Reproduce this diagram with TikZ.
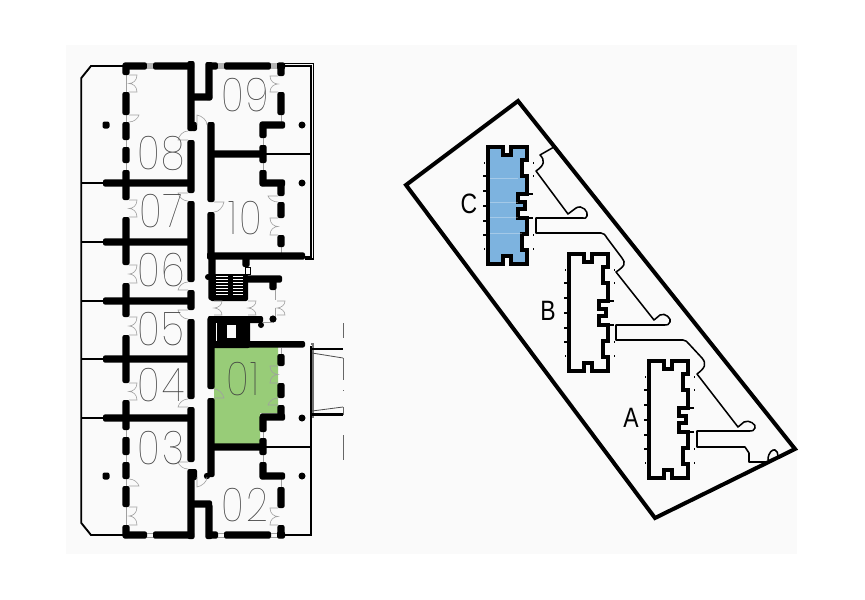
\documentclass[tikz,border=0pt]{standalone}
\usepackage{fontspec}
\setsansfont{Liberation Sans}
\newfontfamily\thinfont[LetterSpace=5]{Poppins Thin}
\definecolor{pagebg}{HTML}{FAFAFA}
\definecolor{unitgreen}{HTML}{98CC78}
\definecolor{unitblue}{HTML}{7DB3DF}
\definecolor{doorgray}{HTML}{A0A0A0}
\definecolor{wingray}{HTML}{B4B4B4}
\tikzset{
  roomno/.style={font=\thinfont\fontsize{35}{35}\selectfont,text=black!75,xscale=0.82,transform shape,inner sep=0pt},
  bldno/.style={font=\sffamily\fontsize{21}{21}\selectfont,text=black,xscale=0.82,transform shape,inner sep=0pt},
  thinwall/.style={draw=black,line width=1.4pt},
  link/.style={draw=doorgray,line width=0.6pt},
  door/.style={draw=doorgray,line width=0.45pt},
  siteline/.style={draw=black,line width=3pt,line join=miter},
  bldline/.style={draw=black,line width=2.6pt,line join=miter},
  walkway/.style={draw=black,line width=1.15pt,line join=round},
}
\newcommand{\wallV}[3]{\fill[black,rounded corners=1.5pt] ({#1-3.6},#2) rectangle ({#1+3.6},#3);}
\newcommand{\wallH}[3]{\fill[black,rounded corners=1.5pt] (#2,{#1-3.6}) rectangle (#3,{#1+3.6});}
\newcommand{\dbl}[4]{\draw[door] (#1,#2) -- ({#1+#4*8},#2) .. controls ({#1+#4*8},{(#2+#3)/2-3}) and ({#1+#4*4},{(#2+#3)/2}) .. (#1,{(#2+#3)/2}) .. controls ({#1+#4*4},{(#2+#3)/2}) and ({#1+#4*8},{(#2+#3)/2+3}) .. ({#1+#4*8},#3) -- (#1,#3);}
\newcommand{\sngV}[4]{\draw[door] (#1,#2) -- ({#1+#4*10},#2) .. controls ({#1+#4*9},{(#2+#3)/2}) and ({#1+#4*5},#3) .. (#1,#3);}
\newcommand{\sngH}[4]{\draw[door] (#2,#1) -- (#2,{#1+#4*10}) .. controls ({(#2+#3)/2},{#1+#4*9}) and (#3,{#1+#4*5}) .. (#3,#1);}
\newcommand{\bldg}[3]{%
\begin{scope}[shift={(#1,#2)}]
  \filldraw[bldline,fill=#3] (0,0) -- (15,0) -- (15,8) -- (23,8) -- (23,0) -- (39,0) -- (39,13) -- (34,13) -- (34,29) -- (39,29) -- (39,47) -- (30,47) -- (30,55) -- (37,55) -- (37,62) -- (30,62) -- (30,71) -- (39,71) -- (39,87) -- (34,87) -- (34,103) -- (39,103) -- (39,117) -- (23,117) -- (23,109) -- (15,109) -- (15,117) -- (0,117) -- cycle;
  \foreach \ty in {29,44,59,74,88} \draw[black,line width=1.2pt] (-5,\ty) -- (0,\ty);
  \foreach \ty in {16,102} \fill[black] (-4.5,\ty-0.7) rectangle (-3,\ty+0.7);
  \foreach \ty in {16,29,88,102} \fill[black] (44.5,\ty-0.7) rectangle (46,\ty+0.7);
  \draw[black,line width=1.1pt] (39,47) -- (45,47) (39,71) -- (45,71);
\end{scope}}
\begin{document}
\begin{tikzpicture}[x=0.75pt,y=-0.75pt]
\useasboundingbox (0,0) rectangle (865,600);
\fill[pagebg] (66,45) rectangle (797,554);
% green unit
\fill[unitgreen] (214,346) -- (278,346) -- (278,413) -- (260,413) -- (260,444) -- (214,444) -- cycle;
% outer thin walls, left wing
\draw[thinwall] (123,66) -- (91,66) -- (81.3,78) -- (81.3,523) -- (91,535) -- (123,535);
\draw[thinwall] (81,183) -- (105,183) (81,242) -- (105,242) (81,301) -- (105,301) (81,359) -- (105,359) (81,418) -- (105,418);
% thin links in left partition
\draw[link] (126,66) -- (126,92) (126,115) -- (126,122) (126,140) -- (126,147) (126,163) -- (126,170);
\draw[link] (126,430) -- (126,437) (126,455) -- (126,462) (126,479) -- (126,486) (126,507) -- (126,525);
% left partition
\wallV{126}{63}{75}\wallV{126}{92}{115}\wallV{126}{122}{140}\wallV{126}{147}{163}\wallV{126}{170}{200}
\wallV{126}{217}{265}\wallV{126}{283}{317}\wallV{126}{335}{383}\wallV{126}{400}{430}
\wallV{126}{437}{455}\wallV{126}{462}{479}\wallV{126}{486}{507}\wallV{126}{525}{538}
% cross walls, left wing
\wallH{183}{103}{191}\wallH{242}{103}{191}\wallH{301}{103}{191}\wallH{359}{103}{191}\wallH{418}{103}{191}
% corridor left wall
\wallV{191}{61}{131}\wallV{191}{140}{193}\wallV{191}{201}{282}\wallV{191}{290}{310}\wallV{191}{319}{399}\wallV{191}{407}{462}\wallV{191}{469}{539}
\fill[black,rounded corners=1.5pt] (191,122) rectangle (197,131);
\fill[black,rounded corners=1.5pt] (191,469) rectangle (197,480);
% top and bottom walls
\wallH{66}{123}{147}\fill[wingray] (147,63) rectangle (153,69);\wallH{66}{153}{194}
\wallH{535}{123}{147}\draw[doorgray,line width=0.5pt] (147,533) -- (153,533) (147,537) -- (153,537);\wallH{535}{153}{194}
% corridor return walls
\wallV{209}{62}{100}\wallH{97}{191}{212}
\wallV{209}{504}{539}\wallH{504}{191}{212}
% corridor right wall
\wallV{211}{122}{202}\wallV{211}{212}{258}\wallV{211}{317}{389}\wallV{211}{398}{477}
\fill[black] (207,476) circle (3.2);
% right wing top wall
\wallH{66}{207}{218}\fill[wingray] (218,63) rectangle (224,69);\wallH{66}{224}{271}\fill[wingray] (271,63) rectangle (277,69);\wallH{66}{277}{285}
% right wing bottom wall
\wallH{535}{207}{218}\draw[doorgray,line width=0.5pt] (218,533) -- (224,533) (218,537) -- (224,537);\wallH{535}{224}{271}\draw[doorgray,line width=0.5pt] (271,533) -- (277,533) (271,537) -- (277,537);\wallH{535}{277}{285}
% right wing links
\draw[link] (281,115) -- (281,125) (263,138) -- (263,145) (263,163) -- (263,170) (281,247) -- (281,256);
\draw[link] (281,348) -- (281,354) (281,405) -- (281,417) (263,432) -- (263,438) (263,455) -- (263,462) (281,476) -- (281,487);
% right wing inner walls
\wallV{281}{63}{76}\wallV{281}{92}{115}\wallH{125}{260}{285}\wallV{263}{122}{138}\wallV{263}{145}{163}\wallV{263}{170}{186}\wallH{183}{260}{285}
\wallV{281}{180}{196}\wallV{281}{202}{218}\wallV{281}{235}{247}
\wallH{154}{211}{263}\draw[thinwall] (263,154) -- (312,154);
\wallH{256}{207}{305}
\wallV{281}{354}{366}\wallV{281}{383}{398}\wallV{281}{405}{417}\wallH{417}{260}{285}\wallV{263}{415}{432}\wallV{263}{438}{455}\wallV{263}{462}{479}\wallH{476}{260}{285}
\wallV{281}{487}{508}\wallV{281}{525}{538}
\wallH{447}{211}{263}\draw[thinwall] (263,447) -- (311,447);
\draw[thinwall] (285,535) -- (311,535) -- (311,346);
% outer double wall, right wing
\draw[black,line width=0.8pt] (277,63.5) -- (313.5,63.5) -- (313.5,259) -- (305,259);
\draw[black,line width=0.8pt] (285,66) -- (311,66) -- (311,257) -- (305,257);
\draw[black!55,line width=1.3pt] (311,344) -- (313,344) -- (313,418);
% stair core
\wallV{212}{256}{300}\wallV{246}{256}{267}
\draw[black,line width=0.6pt] (245,267) rectangle (250,274);
\fill[black,rounded corners=1.5pt] (210,274) rectangle (248,301);
\fill[black] (208,277) circle (3);
\wallH{279}{246}{282}\wallV{273}{279}{290}
\draw[link] (275,290) -- (275,300);
\foreach \sy in {276,279,282,285,288,291,294}{
  \draw[white,line width=0.55pt] (216,\sy) -- (228,\sy) (233,\sy) -- (243,\sy);
}
% block below stair
\fill[black,rounded corners=1.5pt] (208,316) rectangle (250,348);
\fill[black,rounded corners=1.5pt] (208,316) rectangle (263,323);
\fill[black] (261,325) circle (3);
\fill[black] (273,319) circle (3.6);
\draw[link] (263,322) -- (273,322);
\draw[link] (275,316) -- (275,308);
\fill[white] (215.5,323) rectangle (217.2,342);
\fill[pagebg] (227,325) rectangle (236,338);
\fill[black,rounded corners=1.5pt] (208,341) rectangle (305,347.5);
% stair doors
\dbl{214}{301}{315}{1}\dbl{248}{301}{315}{1}\dbl{277}{301}{315}{1}
% black columns in terraces
\fill[black,rounded corners=1.5pt] (102.5,121.5) rectangle (109.5,128.5);
\fill[black,rounded corners=1.5pt] (102.5,472.5) rectangle (109.5,479.5);
\fill[black] (302,125) circle (3.5);\fill[black] (302,183) circle (3.5);
\fill[black] (302,418) circle (3.5);\fill[black] (302,476) circle (3.5);
% left partition doors
\dbl{129}{75}{92}{1}\dbl{129}{200}{217}{1}\dbl{129}{265}{283}{1}\dbl{129}{317}{335}{1}\dbl{129}{383}{400}{1}\dbl{129}{507}{525}{1}
\sngV{129}{115}{122}{1}\sngV{129}{486}{479}{1}
% corridor left wall doors
\sngV{188}{140}{131}{-1}\sngV{188}{193}{201}{-1}\sngV{188}{290}{282}{-1}\sngV{188}{310}{319}{-1}\sngV{188}{407}{399}{-1}\sngV{188}{462}{469}{-1}
% corridor right wall doors
\sngV{214}{202}{212}{1}\sngV{214}{398}{389}{1}
\sngH{125}{197}{207}{-1}\sngH{477}{197}{207}{1}
% right wall doors
\dbl{278}{76}{92}{-1}\dbl{278}{218}{235}{-1}\dbl{278}{366}{383}{-1}\dbl{278}{508}{525}{-1}
\sngV{278}{196}{202}{-1}\sngV{278}{405}{398}{-1}
% entrance
\draw[black,line width=1.8pt] (312,349) -- (343,349) (312,414.5) -- (343,414.5);
\draw[black!70,line width=0.6pt] (312,353) -- (343,358) (312,411) -- (343,407);
\draw[black!60,line width=0.6pt] (343,323) -- (343,338) (343,358) -- (343,380) (343,390) -- (343,391) (343,407) -- (343,415) (343,435) -- (343,460);
% room numbers
\node[roomno] (r08) at (161,153) {08};
\node[roomno] (r07) at (161,211) {07};
\node[roomno] (r06) at (161,270) {06};
\node[roomno] (r05) at (161,329) {05};
\node[roomno] (r04) at (161,385) {04};
\node[roomno] (r03) at (161,448) {03};
\node[roomno] (r09) at (245,95) {09};
\node[roomno] (r10) at (245,218) {10};
\node[roomno] (r01) at (243,379) {01};
\node[roomno] (r02) at (245,505) {02};
% site
\draw[siteline] (518,101) -- (795,449) -- (655,518) -- (406,185) -- cycle;
% walkway
\draw[walkway] (554,147) -- (540,155) .. controls (545,160) and (545,165) .. (536,171) -- (568,214) -- (576,208) .. controls (582,204) and (589,212) .. (587,216) .. controls (586,219) and (585,218) .. (583,218) -- (536,218) -- (536,233) -- (601,233) .. controls (604,233) and (605,235) .. (607,238) -- (622,258) .. controls (626,263) and (625,266) .. (616,272) -- (654,320) -- (660,315) .. controls (665,312) and (672,319) .. (670,322) .. controls (669,325) and (667,325) .. (665,325) -- (616,325) -- (616,340) -- (683,340) .. controls (686,340) and (687,342) .. (689,344) -- (702,358) .. controls (707,364) and (705,368) .. (697,374) -- (738,427) -- (744,422) .. controls (749,419) and (757,425) .. (755,428) .. controls (754,431) and (752,431) .. (750,431) -- (697,431) -- (697,447) -- (745,447) -- (749,453) -- (749,462) -- (767,462);
\draw[walkway] (768,460) .. controls (768,452) and (773,449) .. (775,450) .. controls (777,451) and (778,453) .. (778,456);
% buildings
\bldg{488}{147}{unitblue}
\draw[white,opacity=0.3,line width=0.5pt] (490,178) -- (518,178) (490,202) -- (518,202) (490,217) -- (518,217) (490,233) -- (522,233);
\bldg{569}{254}{pagebg}
\bldg{649}{361}{pagebg}
\node[bldno] (lc) at (469,204) {C};
\node[bldno] (lb) at (548,311) {B};
\node[bldno] (la) at (631,418) {A};
\end{tikzpicture}
\end{document}
